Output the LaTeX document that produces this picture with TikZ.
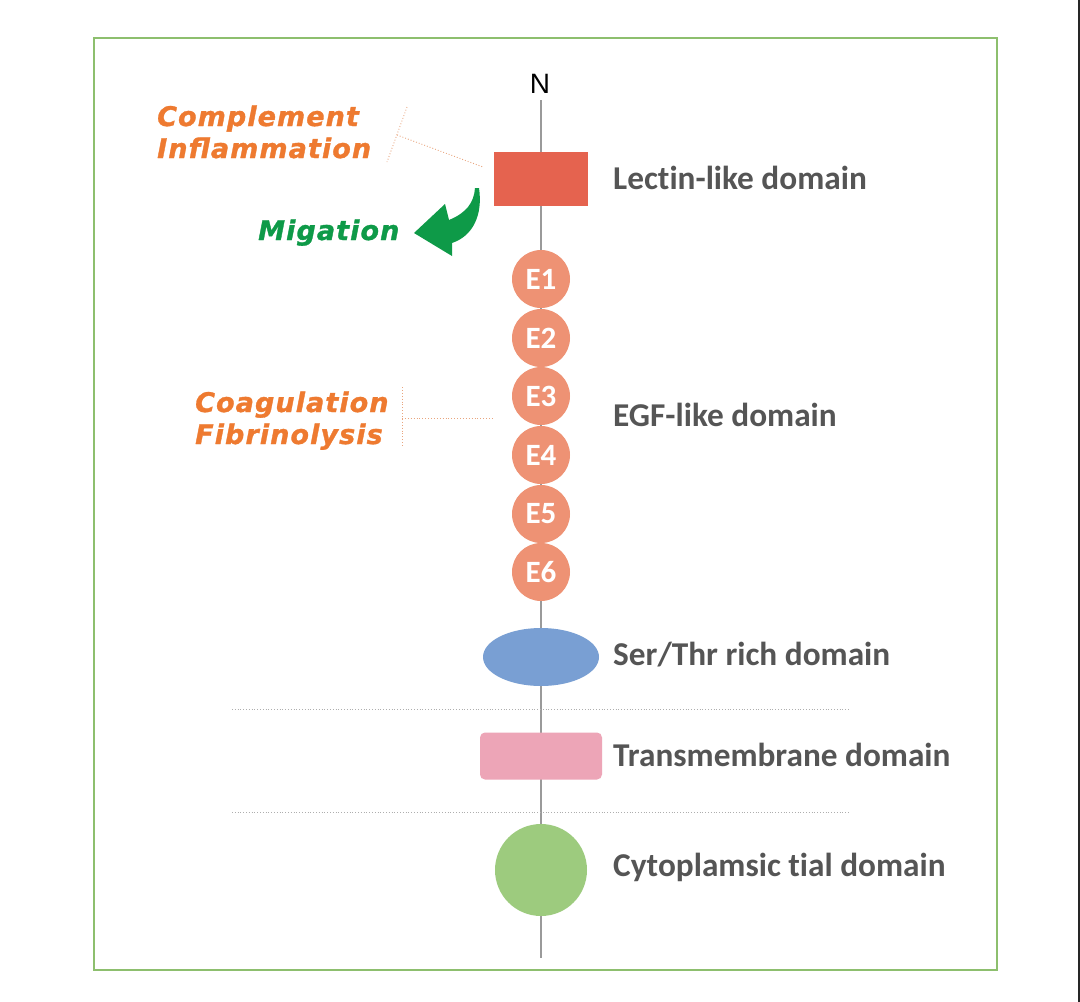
\documentclass[tikz,border=0pt]{standalone}
\usepackage{fontspec}
\usetikzlibrary{shapes.geometric}
\setmainfont{Carlito}
\newfontfamily\labfont[Ligatures=NoCommon]{Carlito}
\newfontfamily\itfont[LetterSpace=4, FakeBold=1.2]{DejaVu Sans}
\newfontfamily\nfont{Liberation Sans}
\definecolor{frame}{HTML}{8DBF6E}
\definecolor{axis}{HTML}{9A9A9A}
\definecolor{lectin}{HTML}{E5634F}
\definecolor{egf}{HTML}{EE9274}
\definecolor{serthr}{HTML}{799FD3}
\definecolor{tm}{HTML}{EDA5B7}
\definecolor{cyto}{HTML}{9DCB7E}
\definecolor{labgray}{HTML}{555555}
\definecolor{func}{HTML}{EE7A30}
\definecolor{funcline}{HTML}{E9A57E}
\definecolor{mig}{HTML}{0E9A48}
\tikzset{
  domlabel/.style={anchor=base west, inner sep=0, text=labgray, font=\labfont\bfseries\fontsize{33.3}{36}\selectfont},
  funclabel/.style={anchor=base west, inner sep=0, text=func, font=\itfont\bfseries\itshape\fontsize{27}{30}\selectfont},
  egfball/.style={circle, fill=egf, minimum size=58pt, inner sep=0, text=white, font=\labfont\bfseries\fontsize{31}{33}\selectfont},
  funcconn/.style={draw=funcline, line width=0.9pt, dotted},
  sepline/.style={draw=axis!80, line width=0.8pt, dotted}
}
\begin{document}
\begin{tikzpicture}[x=1pt,y=-1pt]
\useasboundingbox (0,0) rectangle (1080,1002);
\fill[white] (0,0) rectangle (1080,1002);
\draw[black!85, line width=2pt] (1079,0) -- (1079,1002);
\draw[frame, line width=1.6pt] (94,38) rectangle (997,970);

% axis
\coordinate (axtop) at (541,100);
\coordinate (axbot) at (541,958);
\draw[axis, line width=1.6pt] (axtop) -- (axbot);
\node[font=\nfont\fontsize{28}{30}\selectfont, inner sep=0, anchor=base] (N) at (540,93) {N};

% separators
\coordinate (s1a) at (232,709); \coordinate (s1b) at (850,709);
\coordinate (s2a) at (232,812); \coordinate (s2b) at (850,812);
\draw[sepline] (s1a) -- (s1b);
\draw[sepline] (s2a) -- (s2b);

% domains
\node[fill=lectin, minimum width=94pt, minimum height=54pt, inner sep=0] (lectin) at (541,179) {};
\foreach \i/\y in {1/279,2/338,3/396,4/455,5/514,6/572}{
  \node[egfball] (E\i) at (541,\y) {E\i};
}
\node[ellipse, fill=serthr, minimum width=116pt, minimum height=58pt, inner sep=0] (ser) at (541,657) {};
\node[fill=tm, rounded corners=5pt, minimum width=122pt, minimum height=47pt, inner sep=0] (tm) at (541,756) {};
\node[circle, fill=cyto, minimum size=92pt, inner sep=0] (cyto) at (541,870) {};

% domain labels
\node[domlabel] (llec) at (613,189) {Lectin-like domain};
\node[domlabel] (legf) at (613,426) {EGF-like domain};
\node[domlabel] (lser) at (613,665) {Ser/Thr rich domain};
\node[domlabel] (ltm) at (613,766) {Transmembrane domain};
\node[domlabel] (lcyt) at (613,876) {Cytoplamsic tial domain};

% function labels
\node[funclabel] (comp) at (157,126) {Complement};
\node[funclabel] (infl) at (157,158) {Inflammation};
\node[funclabel] (coag) at (195,412) {Coagulation};
\node[funclabel] (fibr) at (195,444) {Fibrinolysis};
\node[funclabel, text=mig] (migr) at (258,240) {Migation};

% complement connector
\coordinate (cb1) at (407,107);
\coordinate (cb2) at (387,162);
\coordinate (cbm) at (397,135);
\coordinate (clec) at (483,167);
\draw[funcconn] (cb1) -- (cb2);
\draw[funcconn] (cbm) -- (clec);

% coagulation connector
\coordinate (gb1) at (402,387);
\coordinate (gb2) at (402,447);
\coordinate (gbm) at (402,418);
\coordinate (ge3) at (494,418);
\draw[funcconn] (gb1) -- (gb2);
\draw[funcconn] (gbm) -- (ge3);

% migration arrow
\fill[mig] (479,188) .. controls (483,215) and (473,236) .. (452,243)
  -- (452,256) -- (414,233) -- (445,204) -- (449,220)
  .. controls (466,213) and (474,203) .. (475,188) -- cycle;
\end{tikzpicture}
\end{document}
